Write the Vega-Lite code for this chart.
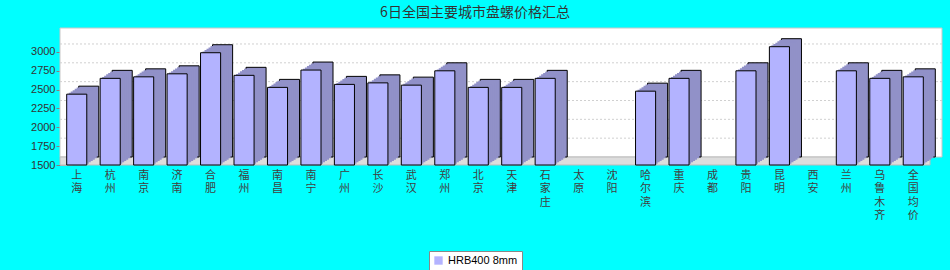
{
  "$schema": "https://vega.github.io/schema/vega-lite/v6.json",
  "width": 870,
  "height": 129,
  "autosize": "none",
  "padding": {"left": 60, "top": 36, "right": 20, "bottom": 105},
  "background": "#00ffff",
  "title": {"text": "6日全国主要城市盘螺价格汇总", "font": "Noto Sans CJK SC", "fontSize": 14, "fontWeight": "normal", "color": "#333333", "offset": 8, "anchor": "middle", "dx": -20},
  "config": {"view": {"stroke": null}},
  "datasets": {
    "prices": [
      {"city": "上海", "price": 2440},
      {"city": "杭州", "price": 2650},
      {"city": "南京", "price": 2670},
      {"city": "济南", "price": 2710},
      {"city": "合肥", "price": 2990},
      {"city": "福州", "price": 2690},
      {"city": "南昌", "price": 2530},
      {"city": "南宁", "price": 2760},
      {"city": "广州", "price": 2570},
      {"city": "长沙", "price": 2590},
      {"city": "武汉", "price": 2560},
      {"city": "郑州", "price": 2750},
      {"city": "北京", "price": 2530},
      {"city": "天津", "price": 2530},
      {"city": "石家庄", "price": 2650},
      {"city": "太原", "price": null},
      {"city": "沈阳", "price": null},
      {"city": "哈尔滨", "price": 2480},
      {"city": "重庆", "price": 2650},
      {"city": "成都", "price": null},
      {"city": "贵阳", "price": 2750},
      {"city": "昆明", "price": 3070},
      {"city": "西安", "price": null},
      {"city": "兰州", "price": 2750},
      {"city": "乌鲁木齐", "price": 2650},
      {"city": "全国均价", "price": 2670}
    ],
    "grid": [{"g": 1750}, {"g": 2000}, {"g": 2250}, {"g": 2500}, {"g": 2750}, {"g": 3000}],
    "wall": [{"top": 3212, "base": 1500}]
  },
  "layer": [
    {
      "data": {"name": "wall"},
      "mark": {"type": "rect", "fill": "#ffffff", "stroke": "#c8c8c8", "strokeWidth": 1, "xOffset": 12, "x2Offset": 12, "yOffset": -8, "y2Offset": -8},
      "encoding": {
        "y": {"field": "top", "type": "quantitative", "scale": {"domain": [1500, 3212], "nice": false, "zero": false},
          "axis": {"title": null, "values": [1500, 1750, 2000, 2250, 2500, 2750, 3000], "format": "d", "labelOverlap": false, "grid": false, "offset": -6, "domainWidth": 12, "domainColor": "#dddddd", "tickColor": "#808080", "tickSize": 10, "labelPadding": 1, "labelFont": "Liberation Sans", "labelFontSize": 11, "labelColor": "#333333"}},
        "y2": {"field": "base"}
      }
    },
    {
      "data": {"name": "grid"},
      "mark": {"type": "rule", "stroke": "#d0d0d0", "strokeDash": [2, 2], "strokeWidth": 1, "xOffset": 12, "x2Offset": 12, "yOffset": -8, "y2Offset": -8},
      "encoding": {"y": {"field": "g", "type": "quantitative", "axis": {"title": null, "values": [1500, 1750, 2000, 2250, 2500, 2750, 3000], "format": "d", "labelOverlap": false, "grid": false, "offset": -6, "domainWidth": 12, "domainColor": "#dddddd", "tickColor": "#808080", "tickSize": 10, "labelPadding": 1, "labelFont": "Liberation Sans", "labelFontSize": 11, "labelColor": "#333333"}}}
    },
    {
      "data": {"name": "wall"},
      "mark": {"type": "rect", "fill": "#dddddd", "stroke": "#bbbbbb", "strokeWidth": 1, "x2Offset": 12, "y2Offset": -8},
      "encoding": {"y": {"field": "base", "type": "quantitative", "axis": {"title": null, "values": [1500, 1750, 2000, 2250, 2500, 2750, 3000], "format": "d", "labelOverlap": false, "grid": false, "offset": -6, "domainWidth": 12, "domainColor": "#dddddd", "tickColor": "#808080", "tickSize": 10, "labelPadding": 1, "labelFont": "Liberation Sans", "labelFontSize": 11, "labelColor": "#333333"}}, "y2": {"field": "base"}}
    },
    {
      "data": {"name": "prices"},
      "encoding": {
        "x": {
          "field": "city", "type": "nominal",
          "scale": {"domain": ["上海","杭州","南京","济南","合肥","福州","南昌","南宁","广州","长沙","武汉","郑州","北京","天津","石家庄","太原","沈阳","哈尔滨","重庆","成都","贵阳","昆明","西安","兰州","乌鲁木齐","全国均价"], "paddingInner": 0.4, "paddingOuter": 0.2},
          "axis": {"title": null, "labelAngle": 0, "labelExpr": "split(datum.label, '')", "labelLineHeight": 13.5, "labelFont": "Noto Sans CJK SC", "labelFontSize": 11, "labelColor": "#404040", "labelPadding": 4, "labelBaseline": "top", "ticks": false, "domain": false}
        },
        "y": {"field": "price", "type": "quantitative", "axis": {"title": null, "values": [1500, 1750, 2000, 2250, 2500, 2750, 3000], "format": "d", "labelOverlap": false, "grid": false, "offset": -6, "domainWidth": 12, "domainColor": "#dddddd", "tickColor": "#808080", "tickSize": 10, "labelPadding": 1, "labelFont": "Liberation Sans", "labelFontSize": 11, "labelColor": "#333333"}},
        "y2": {"datum": 1500}
      },
      "layer": [
        {"mark": {"type": "bar", "fill": "#9191c8", "stroke": "#000000", "strokeWidth": 1, "xOffset": 12, "x2Offset": 12, "yOffset": -8, "y2Offset": -8}},
        {"mark": {"type": "bar", "fill": "#9191c8", "xOffset": 10, "x2Offset": 10, "yOffset": -6.67, "y2Offset": -6.67}},
        {"mark": {"type": "bar", "fill": "#9191c8", "xOffset": 8, "x2Offset": 8, "yOffset": -5.33, "y2Offset": -5.33}},
        {"mark": {"type": "bar", "fill": "#9191c8", "xOffset": 6, "x2Offset": 6, "yOffset": -4, "y2Offset": -4}},
        {"mark": {"type": "bar", "fill": "#9191c8", "xOffset": 4, "x2Offset": 4, "yOffset": -2.67, "y2Offset": -2.67}},
        {"mark": {"type": "bar", "fill": "#9191c8", "xOffset": 2, "x2Offset": 2, "yOffset": -1.33, "y2Offset": -1.33}},
        {
          "mark": {"type": "bar", "stroke": "#000000", "strokeWidth": 1},
          "encoding": {
            "color": {"datum": "HRB400 8mm", "type": "nominal", "scale": {"range": ["#b3b3ff"]},
              "legend": {"title": null, "orient": "none", "legendX": 369, "legendY": 215, "fillColor": "white", "strokeColor": "#888888", "padding": 4, "symbolType": "square", "symbolSize": 70, "symbolStrokeWidth": 0, "labelFont": "Liberation Sans", "labelFontSize": 11, "labelColor": "#000000"}}
          }
        }
      ]
    }
  ]
}
